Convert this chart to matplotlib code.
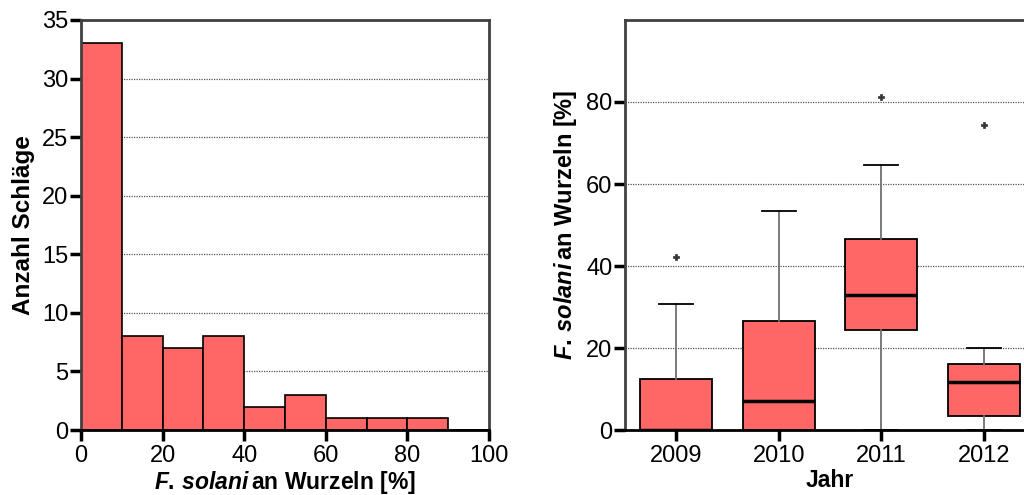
import matplotlib.pyplot as plt
import numpy as np

plt.rcParams['font.family'] = ['Liberation Sans', 'DejaVu Sans']
plt.rcParams['mathtext.fontset'] = 'custom'
plt.rcParams['mathtext.it'] = 'Liberation Sans:bold:italic'
plt.rcParams['mathtext.rm'] = 'Liberation Sans:bold'
plt.rcParams['mathtext.bf'] = 'Liberation Sans:bold'

# histogram: share of roots infected, counts per 10 % class
bin_edges = [0, 10, 20, 30, 40, 50, 60, 70, 80, 90, 100]
counts = [33, 8, 7, 8, 2, 3, 1, 1, 1, 0]

# box plot per year
years = ['2009', '2010', '2011', '2012']
q1 = [0.0, 0.0, 24.5, 3.4]
med = [0.0, 7.0, 33.0, 11.6]
q3 = [12.4, 26.6, 46.6, 16.2]
whislo = [0.0, 0.0, 0.0, 0.0]
whishi = [30.7, 53.3, 64.6, 20.0]
fliers = [[42.3], [], [81.3], [74.4]]

red = '#FF6666'
grid_kw = dict(color='#555555', linestyle=(0, (1, 1)), linewidth=0.9)
label_txt = '$F.\\,solani\\,$an Wurzeln [%]'

fig = plt.figure(figsize=(10.24, 4.95), dpi=100)

# ---- left: histogram
ax1 = fig.add_axes([0.0791, 0.1313, 0.3984, 0.8283])
ax1.bar(bin_edges[:-1], counts, width=np.diff(bin_edges), align='edge',
        color=red, edgecolor='black', linewidth=1.2, zorder=2)
ax1.set_xlim(0, 100)
ax1.set_ylim(0, 35)
ax1.set_xticks(range(0, 101, 20))
ax1.set_yticks(range(0, 36, 5))
for y in range(5, 35, 5):
    ax1.axhline(y, zorder=1, **grid_kw)
ax1.set_xlabel(label_txt, fontsize=16.5, fontweight='bold', labelpad=1)
ax1.set_ylabel('Anzahl Schläge', fontsize=17.5, fontweight='bold', labelpad=5)

# ---- right: box plot
ax2 = fig.add_axes([0.6104, 0.1313, 0.4004, 0.8283])
stats = []
for i in range(len(years)):
    stats.append(dict(label=years[i], q1=q1[i], med=med[i], q3=q3[i],
                      whislo=whislo[i], whishi=whishi[i], fliers=fliers[i]))
ax2.bxp(stats, positions=range(1, 5), widths=0.7, capwidths=0.33,
        patch_artist=True,
        boxprops=dict(facecolor=red, edgecolor='black', linewidth=1.3),
        medianprops=dict(color='black', linewidth=2.5),
        whiskerprops=dict(color='#707070', linewidth=1.3),
        capprops=dict(color='black', linewidth=1.3),
        flierprops=dict(marker='P', markersize=5, markerfacecolor='#333333',
                        markeredgecolor='#333333', markeredgewidth=0.5),
        zorder=2)
ax2.set_xlim(0.5, 4.5)
ax2.set_ylim(0, 100)
ax2.set_yticks(range(0, 81, 20))
for y in range(20, 81, 20):
    ax2.axhline(y, zorder=1, **grid_kw)
ax2.set_xlabel('Jahr', fontsize=16.5, fontweight='bold', labelpad=1)
ax2.set_ylabel(label_txt, fontsize=17, fontweight='bold', labelpad=5)

for ax in (ax1, ax2):
    ax.tick_params(labelsize=17, width=2.5, length=8, direction='out', color='black')
    ax.tick_params(axis='y', pad=1)
    ax.tick_params(axis='x', pad=3)
    ax.spines['left'].set_color('#404040')
    ax.spines['bottom'].set_color('black')
    ax.spines['top'].set_color('#404040')
    ax.spines['right'].set_color('#404040')
    for s in ax.spines.values():
        s.set_linewidth(2)
    ax.tick_params(top=False, right=False)

fig.savefig('out.png', dpi=100)
